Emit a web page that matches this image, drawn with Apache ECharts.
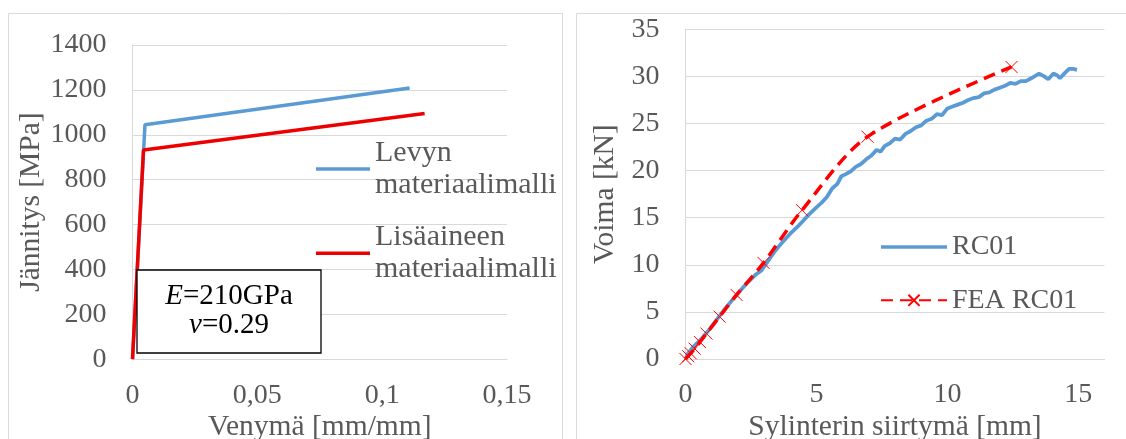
<!DOCTYPE html>
<html>
<head>
<meta charset="utf-8">
<script src="https://cdn.jsdelivr.net/npm/echarts@6/dist/echarts.min.js"></script>
<style>
html,body{margin:0;padding:0;background:#fff;}
#chart{width:1126px;height:439px;}
</style>
</head>
<body>
<div id="chart"></div>
<script>
// ---- Data ----
const levynName = 'Levyn materiaalimalli';
const lisaName = 'Lisäaineen materiaalimalli';
const levynData = [[0, 0], [0.005, 1045], [0.111, 1208]];
const lisaData = [[0, 0], [0.0044, 932], [0.117, 1095]];

const rcName = 'RC01';
const feaName = 'FEA RC01';
const rc01Data = [
  [0,0],[0.1,0.6],[0.3,1.3],[0.6,2.1],[0.9,3.1],[1.2,4.2],[1.5,5.3],[1.8,6.3],[2.1,7.3],
  [2.4,8.2],[2.7,9.0],[2.9,9.4],[3.1,10.2],[3.4,11.4],[3.7,12.4],[4.0,13.3],[4.3,14.1],
  [4.7,15.3],[5.0,16.1],[5.2,16.6],[5.4,17.2],[5.6,18.1],[5.8,18.6],[5.95,19.4],[6.1,19.6],
  [6.3,19.9],[6.5,20.4],[6.7,20.7],[6.9,21.2],[7.1,21.6],[7.3,22.2],[7.45,22.0],[7.6,22.6],
  [7.8,22.9],[8.0,23.4],[8.2,23.3],[8.4,23.9],[8.6,24.2],[8.8,24.6],[9.0,24.8],[9.2,25.3],
  [9.4,25.5],[9.6,26.0],[9.8,25.9],[10.0,26.6],[10.2,26.8],[10.4,27.0],[10.6,27.2],[10.8,27.5],
  [11.0,27.7],[11.2,27.8],[11.4,28.2],[11.6,28.3],[11.8,28.6],[12.0,28.8],[12.2,29.0],[12.4,29.3],
  [12.6,29.2],[12.8,29.5],[13.0,29.5],[13.2,29.8],[13.5,30.3],[13.7,30.0],[13.85,29.7],[14.05,30.3],
  [14.2,30.1],[14.3,29.8],[14.5,30.4],[14.65,30.8],[14.8,30.8],[14.95,30.7]
];
const feaData = [
  [0,0],[0.1,0.3],[0.2,0.6],[0.35,1.1],[0.55,1.8],[0.8,2.7],[1.3,4.5],[1.95,6.8],
  [2.98,10.2],[4.45,15.8],[6.95,23.6],[12.45,31.0]
];

// ---- Styling ----
const FONT = '"Liberation Serif", "DejaVu Serif", serif';
const GRAY = '#595959';
const GRID = '#d9d9d9';
const BLUE = '#5B9BD5';
const RED = '#EE0000';
const LINE_ICON = 'path://M0,0H54V3.5H0Z';
const comma = v => String(+v.toFixed(4)).replace('.', ',');

const chart = echarts.init(document.getElementById('chart'));

function axisBase() {
  return {
    axisLine: { show: true, lineStyle: { color: GRID, width: 1 } },
    axisTick: { show: false },
    axisLabel: { color: GRAY, fontFamily: FONT, fontSize: 28 },
    nameTextStyle: { color: GRAY, fontFamily: FONT, fontSize: 29.5 },
    nameMoveOverlap: false,
    splitLine: { show: false }
  };
}

const option = {
  animation: false,
  backgroundColor: '#fff',
  graphic: [
    { type: 'rect', shape: { x: 8.5, y: 13.5, width: 554, height: 440 }, style: { fill: 'none', stroke: GRID, lineWidth: 1 }, z: 0 },
    { type: 'rect', shape: { x: 576.5, y: 13.5, width: 560, height: 440 }, style: { fill: 'none', stroke: GRID, lineWidth: 1 }, z: 0 },
    { type: 'rect', shape: { x: 137, y: 270, width: 184, height: 83 }, style: { fill: '#fff', stroke: '#000', lineWidth: 1.3 }, z: 100 },
    { type: 'text', x: 229, y: 311, z: 101,
      style: {
        text: '{i|E}=210GPa\n{i|ν}=0.29',
        fontFamily: FONT, fontSize: 29, lineHeight: 29, fill: '#000',
        align: 'center', verticalAlign: 'middle',
        rich: { i: { fontFamily: FONT, fontSize: 29, lineHeight: 29, fontStyle: 'italic', fill: '#000' } }
      }
    }
  ],
  grid: [
    { left: 132.5, top: 45, width: 374.5, height: 314.2, outerBoundsMode: 'none' },
    { left: 685.5, top: 29.3, width: 419, height: 329.7, outerBoundsMode: 'none' }
  ],
  xAxis: [
    Object.assign(axisBase(), {
      type: 'value', gridIndex: 0, min: 0, max: 0.15, interval: 0.05,
      name: 'Venymä [mm/mm]', nameLocation: 'middle', nameGap: 53,
      axisLabel: { color: GRAY, fontFamily: FONT, fontSize: 28, margin: 22, formatter: comma }
    }),
    Object.assign(axisBase(), {
      type: 'value', gridIndex: 1, min: 0, max: 16, interval: 5,
      name: 'Sylinterin siirtymä [mm]', nameLocation: 'middle', nameGap: 53,
      axisLabel: { color: GRAY, fontFamily: FONT, fontSize: 28, margin: 22, showMaxLabel: false,
        formatter: v => (v === 16 ? '' : String(v)) }
    })
  ],
  yAxis: [
    Object.assign(axisBase(), {
      type: 'value', gridIndex: 0, min: 0, max: 1400, interval: 200,
      name: 'Jännitys [MPa]', nameLocation: 'middle', nameGap: 86,
      axisLabel: { color: GRAY, fontFamily: FONT, fontSize: 28, margin: 26, formatter: v => String(v) },
      splitLine: { show: true, lineStyle: { color: GRID, width: 1 } }
    }),
    Object.assign(axisBase(), {
      type: 'value', gridIndex: 1, min: 0, max: 35, interval: 5,
      name: 'Voima [kN]', nameLocation: 'middle', nameGap: 65,
      axisLabel: { color: GRAY, fontFamily: FONT, fontSize: 28, margin: 26, formatter: v => String(v) },
      splitLine: { show: true, lineStyle: { color: GRID, width: 1 } }
    })
  ],
  legend: [
    { data: [{ name: levynName, icon: LINE_ICON }], left: 316, top: 120.3, padding: 0, itemWidth: 54, itemHeight: 14,
      formatter: n => n.replace(' ', '\n'),
      textStyle: { color: GRAY, fontFamily: FONT, fontSize: 30, lineHeight: 32.5, padding: [32.5, 0, 0, 0] } },
    { data: [{ name: lisaName, icon: LINE_ICON }], left: 316, top: 204.5, padding: 0, itemWidth: 54, itemHeight: 14,
      formatter: n => n.replace(' ', '\n'),
      textStyle: { color: GRAY, fontFamily: FONT, fontSize: 30, lineHeight: 32.5, padding: [32.5, 0, 0, 0] } },
    { data: [{ name: rcName, icon: 'path://M0,0H66V3.5H0Z' }, feaName], orient: 'vertical', left: 880, top: 232, padding: 0,
      itemWidth: 66, itemHeight: 14, itemGap: 23.3,
      textStyle: { color: GRAY, fontFamily: FONT, fontSize: 28, lineHeight: 30 } }
  ],
  series: [
    { name: levynName, type: 'line', xAxisIndex: 0, yAxisIndex: 0, data: levynData,
      symbol: 'none', lineStyle: { color: BLUE, width: 3.5 }, itemStyle: { color: BLUE } },
    { name: lisaName, type: 'line', xAxisIndex: 0, yAxisIndex: 0, data: lisaData,
      symbol: 'none', lineStyle: { color: RED, width: 3.5 }, itemStyle: { color: RED } },
    { name: rcName, type: 'line', xAxisIndex: 1, yAxisIndex: 1, data: rc01Data,
      symbol: 'none', lineStyle: { color: BLUE, width: 3.8 }, itemStyle: { color: BLUE } },
    { name: feaName, type: 'line', xAxisIndex: 1, yAxisIndex: 1, data: feaData,
      smooth: 0.3,
      symbol: 'path://M0,0L10,10M10,0L0,10', symbolSize: 12, showAllSymbol: true,
      lineStyle: { color: '#FF0000', width: 3.5, type: [12, 7] },
      itemStyle: { color: 'rgba(0,0,0,0)', borderColor: '#FF0000', borderWidth: 1 } }
  ]
};
chart.setOption(option);
</script>
</body>
</html>
